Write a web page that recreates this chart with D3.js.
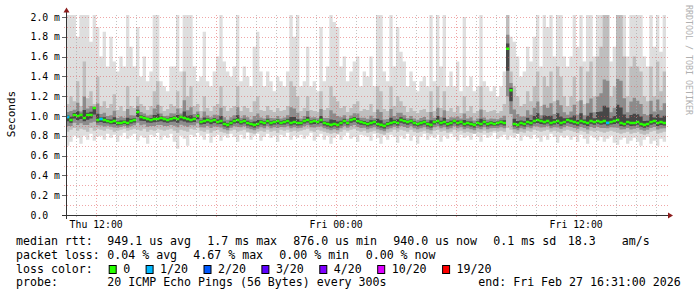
<!DOCTYPE html>
<html><head><meta charset="utf-8">
<script src="https://cdn.jsdelivr.net/npm/d3@7/dist/d3.min.js"></script>
<style>body{margin:0;background:#fff}svg{display:block}</style>
</head><body><svg id="c" width="697" height="297"></svg>
<script>
// ---------- data ----------
const startTime = "2026-02-26T10:31:00Z";
const endTime = "2026-02-27T16:31:00Z";
const stepMinutes = 10;

// median rtt (ms) per 10-minute slot
const median = [
0.99,0.96,1.01,1.00,1.01,0.98,1.01,1.01,1.08,0.96,
0.97,0.96,0.95,0.94,0.95,0.93,0.93,0.94,0.93,0.95,
0.96,1.04,0.99,0.98,0.97,0.96,0.97,0.97,0.98,0.97,
0.96,0.97,0.98,0.97,0.99,0.98,0.97,0.96,0.97,1.00,
0.94,0.95,0.96,0.95,0.96,0.94,0.95,0.92,0.91,0.93,
0.95,0.96,0.94,0.95,0.93,0.92,0.91,0.92,0.94,0.93,
0.95,0.93,0.94,0.95,0.93,0.94,0.95,0.93,0.94,0.93,
0.93,0.95,0.96,0.94,0.95,0.94,0.96,0.93,0.92,0.91,
0.92,0.91,0.93,0.95,0.93,0.96,0.97,0.95,0.94,0.93,
0.92,0.93,0.94,0.92,0.91,0.90,0.92,0.93,0.94,0.93,
0.96,0.95,0.94,0.95,0.93,0.92,0.93,0.94,0.92,0.91,
0.94,0.95,0.93,0.94,0.92,0.93,0.95,0.93,0.94,0.92,
0.93,0.92,0.91,0.93,0.92,0.94,0.92,0.93,0.92,0.93,
0.94,0.93,1.68,1.26,0.92,0.91,0.93,0.92,0.94,0.93,
0.95,0.96,0.95,0.94,0.95,0.93,0.94,0.95,0.93,0.94,
0.96,0.95,0.94,0.93,0.95,0.94,0.93,0.95,0.94,0.95,
0.94,0.95,0.93,0.94,0.95,0.96,0.93,0.92,0.94,0.93,
0.93,0.94,0.92,0.91,0.92,0.94,0.95,0.93,0.94,0.93];

// slowest ping (ms), values above 2.0 are off the chart
const maxRtt = [
2.05,2.05,2.05,1.80,2.05,2.05,2.05,1.75,2.05,1.90,
1.60,1.85,1.50,1.80,1.55,1.45,1.60,1.50,2.05,1.70,
1.50,1.90,1.40,1.60,1.35,1.45,2.05,2.05,1.35,1.30,
1.25,1.50,1.50,2.05,1.45,2.05,2.05,2.05,1.50,1.35,
1.40,1.85,1.35,1.30,1.45,1.60,2.05,1.55,1.45,1.40,
1.50,2.05,1.35,1.50,1.40,1.30,1.70,1.85,1.45,1.30,
1.45,1.35,1.25,1.40,1.35,1.30,1.45,2.05,1.80,2.05,
1.30,1.35,1.70,1.30,1.35,1.25,1.90,1.35,1.50,2.05,
1.95,1.90,1.50,1.60,1.35,1.45,1.55,1.60,1.30,1.45,
1.40,1.60,1.30,2.05,2.05,1.45,1.35,2.05,1.50,1.90,
1.65,1.55,1.30,1.45,1.35,1.25,1.35,1.40,1.30,2.05,
1.35,2.05,1.50,2.05,1.30,1.45,1.30,1.55,1.25,2.00,
1.30,1.40,1.25,1.30,2.05,1.35,1.30,1.25,1.30,1.20,
1.30,1.45,2.05,1.80,1.75,1.60,1.40,1.45,1.70,1.55,
1.80,2.05,1.50,2.05,1.90,2.05,1.60,2.05,2.05,1.60,
1.50,1.60,2.05,1.70,2.05,1.55,2.05,2.05,1.60,2.05,
2.05,2.05,2.05,1.55,1.70,2.05,2.05,2.05,1.60,2.05,
2.05,2.05,2.05,1.60,1.50,2.05,1.70,2.05,1.65,2.05];

// upper edge of the dense part of the smoke (ms)
const upperRtt = [
1.12,1.20,1.15,1.35,1.10,1.55,1.18,1.25,1.12,1.40,
1.10,1.15,1.08,1.12,1.22,1.06,1.10,1.05,1.30,1.10,
1.08,1.20,1.12,1.10,1.06,1.10,1.25,1.35,1.10,1.05,
1.07,1.12,1.10,1.25,1.08,1.45,1.20,1.30,1.10,1.12,
1.05,1.20,1.08,1.05,1.10,1.12,1.30,1.10,1.05,1.08,
1.10,1.30,1.05,1.10,1.08,1.04,1.15,1.20,1.06,1.05,
1.10,1.06,1.04,1.08,1.05,1.06,1.10,1.35,1.30,1.20,
1.05,1.08,1.20,1.06,1.05,1.04,1.25,1.06,1.08,1.30,
1.20,1.15,1.08,1.10,1.04,1.08,1.12,1.15,1.05,1.07,
1.06,1.12,1.04,1.30,1.25,1.07,1.05,1.30,1.10,1.20,
1.15,1.10,1.04,1.08,1.05,1.03,1.06,1.07,1.04,1.25,
1.05,1.30,1.08,1.25,1.05,1.08,1.04,1.10,1.03,1.20,
1.05,1.10,1.03,1.05,1.30,1.06,1.04,1.05,1.06,1.03,
1.05,1.12,2.05,1.45,1.30,1.20,1.10,1.12,1.25,1.15,
1.30,1.45,1.10,1.40,1.30,1.45,1.15,1.50,1.40,1.20,
1.10,1.20,1.40,1.15,1.50,1.12,1.45,1.55,1.20,1.60,
1.70,2.05,2.05,1.20,1.30,2.05,2.05,1.60,1.20,1.50,
1.60,1.50,1.45,1.20,1.15,1.50,1.20,1.55,1.25,1.45];

// lower edge of the dense part of the smoke (ms)
const lowerRtt = [
0.84,0.86,0.88,0.85,0.87,0.86,0.84,0.88,0.85,0.87,
0.86,0.85,0.87,0.86,0.84,0.85,0.86,0.87,0.85,0.86,
0.87,0.86,0.85,0.87,0.84,0.86,0.85,0.87,0.86,0.85,
0.86,0.87,0.85,0.83,0.86,0.85,0.84,0.87,0.86,0.88,
0.85,0.84,0.86,0.83,0.85,0.86,0.84,0.83,0.82,0.85,
0.86,0.84,0.85,0.86,0.84,0.83,0.82,0.84,0.85,0.84,
0.86,0.84,0.85,0.83,0.86,0.85,0.86,0.84,0.85,0.84,
0.85,0.86,0.87,0.85,0.84,0.86,0.85,0.84,0.83,0.82,
0.83,0.82,0.84,0.86,0.85,0.86,0.87,0.85,0.84,0.85,
0.83,0.84,0.85,0.83,0.82,0.81,0.83,0.84,0.86,0.84,
0.86,0.85,0.84,0.86,0.84,0.83,0.84,0.85,0.83,0.82,
0.85,0.86,0.84,0.85,0.83,0.84,0.86,0.84,0.85,0.83,
0.84,0.83,0.82,0.84,0.83,0.85,0.83,0.84,0.85,0.84,
0.85,0.84,0.88,0.86,0.83,0.82,0.84,0.83,0.85,0.84,
0.86,0.85,0.84,0.85,0.86,0.84,0.85,0.84,0.83,0.85,
0.86,0.85,0.84,0.83,0.85,0.84,0.82,0.85,0.84,0.85,
0.84,0.83,0.84,0.85,0.84,0.83,0.82,0.83,0.84,0.82,
0.83,0.84,0.82,0.81,0.82,0.84,0.85,0.82,0.83,0.84];

// fastest ping (ms)
const minRtt = [
0.70,0.74,0.80,0.78,0.72,0.80,0.76,0.82,0.75,0.79,
0.80,0.76,0.82,0.78,0.81,0.74,0.80,0.83,0.77,0.80,
0.82,0.75,0.80,0.78,0.72,0.81,0.79,0.83,0.76,0.80,
0.78,0.82,0.74,0.67,0.80,0.77,0.70,0.81,0.79,0.83,
0.80,0.76,0.82,0.73,0.79,0.81,0.75,0.80,0.78,0.82,
0.79,0.74,0.81,0.77,0.83,0.76,0.80,0.82,0.75,0.79,
0.82,0.78,0.80,0.74,0.81,0.79,0.83,0.76,0.80,0.78,
0.81,0.77,0.80,0.83,0.75,0.79,0.82,0.76,0.80,0.72,
0.78,0.81,0.76,0.80,0.83,0.77,0.79,0.74,0.81,0.80,
0.79,0.75,0.82,0.78,0.72,0.80,0.76,0.81,0.79,0.73,
0.80,0.77,0.82,0.75,0.80,0.72,0.79,0.82,0.76,0.80,
0.78,0.81,0.74,0.80,0.77,0.82,0.79,0.75,0.81,0.78,
0.80,0.76,0.82,0.79,0.74,0.81,0.78,0.80,0.83,0.77,
0.79,0.81,0.76,0.80,0.78,0.82,0.75,0.80,0.79,0.77,
0.81,0.78,0.74,0.80,0.76,0.82,0.79,0.73,0.80,0.78,
0.80,0.76,0.79,0.74,0.81,0.77,0.72,0.80,0.78,0.75,
0.79,0.74,0.77,0.80,0.73,0.71,0.76,0.78,0.72,0.75,
0.78,0.74,0.70,0.76,0.79,0.72,0.75,0.70,0.77,0.74];

// slots with packet loss and the number of lost pings (of 20)
const lossSlots = [0, 10, 162];
const lossCounts = [1, 1, 1];

const yTickValues = [0,0.2,0.4,0.6,0.8,1.0,1.2,1.4,1.6,1.8,2.0];
const yTickLabels = ["0.0","0.2 m","0.4 m","0.6 m","0.8 m","1.0 m","1.2 m","1.4 m","1.6 m","1.8 m","2.0 m"];
const yGridValues = [0.1,0.2,0.3,0.4,0.5,0.6,0.7,0.8,0.9,1.0,1.1,1.2,1.3,1.4,1.5,1.6,1.7,1.8,1.9,2.0];
const xTickTimes = ["2026-02-26T12:00:00Z","2026-02-27T00:00:00Z","2026-02-27T12:00:00Z"];
const xTickLabels = ["Thu 12:00","Fri 00:00","Fri 12:00"];

const medianStats = ["949.1 us avg","1.7 ms max","876.0 us min","940.0 us now","0.1 ms sd","18.3","am/s"];
const lossStats = ["0.04 % avg","4.67 % max","0.00 % min","0.00 % now"];
const lossLabels = ["0","1/20","2/20","3/20","4/20","10/20","19/20"];
const lossColors = ["#26ff00","#00b8ff","#0059ff","#5e00ff","#7e00ff","#dd00ff","#ff0000"];
const lossThresholds = [0,1,2,3,4,10,19];
const probeText = "20 ICMP Echo Pings (56 Bytes) every 300s";
const endText = "end: Fri Feb 27 16:31:00 2026";

// ---------- drawing ----------
const svg = d3.select("#c");
const mono = "'DejaVu Sans Mono', monospace";
const t0 = new Date(startTime), t1 = new Date(endTime);
const x = d3.scaleUtc().domain([t0, t1]).range([66, 666]);
const y = d3.scaleLinear().domain([0, 2]).range([215, 17]);

const N = median.length;
const rows = d3.range(N + 1).map(i => {
  const k = Math.min(i, N - 1);
  return {t: d3.utcMinute.offset(t0, i * stepMinutes), med: median[k], hi: maxRtt[k],
          up: upperRtt[k], lo2: lowerRtt[k], lo: minRtt[k]};
});

svg.append("defs").append("clipPath").attr("id", "pc")
  .append("rect").attr("x", 66).attr("y", 15).attr("width", 600).attr("height", 200);
const plot = svg.append("g").attr("clip-path", "url(#pc)");

function band(f0, f1, color) {
  const a = d3.area().curve(d3.curveStepAfter)
    .x(d => x(d.t)).y0(d => y(f0(d))).y1(d => y(f1(d)));
  plot.append("path").datum(rows).attr("d", a).attr("fill", color);
}
band(d => d.lo, d => d.hi, "#dedede");
band(d => d.lo2, d => d.up, "#bebebe");
band(d => d.med - (d.med - d.lo2) * 0.6, d => d.med + (d.up - d.med) * 0.38, "#8c8c8c");
band(d => d.med - (d.med - d.lo2) * 0.28, d => d.med + (d.up - d.med) * 0.14, "#474747");
band(d => d.med - 0.013, d => d.med + 0.013, lossColors[0]);

lossSlots.forEach((s, j) => {
  const ci = d3.bisectRight(lossThresholds, lossCounts[j]) - 1;
  plot.append("rect")
    .attr("x", x(rows[s].t)).attr("width", x(rows[s + 1].t) - x(rows[s].t))
    .attr("y", y(median[s] + 0.013)).attr("height", y(median[s] - 0.013) - y(median[s] + 0.013))
    .attr("fill", lossColors[ci]);
});

// grid (drawn over the data, dotted)
const grid = svg.append("g");
d3.utcHour.range(d3.utcHour.ceil(t0), t1).forEach(h => {
  const major = h.getUTCHours() % 6 === 0;
  const xx = Math.round(x(h)) + 0.5;
  grid.append("line").attr("x1", xx).attr("x2", xx).attr("y1", 15).attr("y2", 217)
    .attr("stroke", major ? "rgba(224,80,80,0.5)" : "rgba(170,170,170,0.7)")
    .attr("stroke-dasharray", "1,2");
});
yGridValues.forEach(v => {
  const yy = Math.round(y(v)) + 0.5;
  grid.append("line").attr("x1", 64).attr("x2", 668).attr("y1", yy).attr("y2", yy)
    .attr("stroke", "rgba(224,80,80,0.5)").attr("stroke-dasharray", "1,2");
});

// axes
const axisColor = "#333";
svg.append("line").attr("x1", 62).attr("x2", 669).attr("y1", 215.5).attr("y2", 215.5).attr("stroke", axisColor);
svg.append("line").attr("x1", 66.5).attr("x2", 66.5).attr("y1", 219).attr("y2", 12).attr("stroke", axisColor);
svg.append("path").attr("d", "M668,212.5L673,215.5L668,218.5Z").attr("fill", "#8c1c1c");
svg.append("path").attr("d", "M63.5,12.5L66.5,7.5L69.5,12.5Z").attr("fill", "#8c1c1c");

yTickValues.forEach((v, i) => {
  const yy = Math.round(y(v)) + 0.5;
  if (v > 0) svg.append("line").attr("x1", 62).attr("x2", 66).attr("y1", yy).attr("y2", yy).attr("stroke", "#666");
  svg.append("text").attr("x", 30.5).attr("y", y(v) + 3.6)
    .attr("font-family", mono).attr("font-size", "9.8px").attr("fill", "#000").text(yTickLabels[i]);
});
xTickTimes.forEach((t, i) => {
  svg.append("text").attr("x", x(new Date(t)) + 0.5).attr("y", 228.3).attr("text-anchor", "middle")
    .attr("font-family", mono).attr("font-size", "9.8px").attr("fill", "#000").text(xTickLabels[i]);
});

svg.append("text").attr("transform", "translate(15,114) rotate(-90)").attr("text-anchor", "middle")
  .attr("font-family", mono).attr("font-size", "11px").attr("fill", "#000").text("Seconds");
svg.append("text").attr("transform", "translate(685.5,5) rotate(90)")
  .attr("font-family", mono).attr("font-size", "8.3px").attr("fill", "#b0b0b0").text("RRDTOOL / TOBI OETIKER");

// legend
const lf = "11.6px";
const base = [245.3, 258.9, 272.6, 286.3];
function txt(xx, yy, s) {
  svg.append("text").attr("x", xx).attr("y", yy).attr("font-family", mono).attr("font-size", lf)
    .attr("fill", "#000").text(s);
}
txt(16, base[0], "median rtt:");
[107.3, 207.3, 293.3, 393.3, 493.3, 567.7, 621.7].forEach((xx, i) => txt(xx, base[0], medianStats[i]));
txt(16, base[1], "packet loss:");
[107.3, 193.3, 279.3, 365.7].forEach((xx, i) => txt(xx, base[1], lossStats[i]));
txt(16, base[2], "loss color:");
let bx = 108.7;
lossLabels.forEach((l, i) => {
  svg.append("rect").attr("x", bx + 0.5).attr("y", 265.5).attr("width", 7).attr("height", 8)
    .attr("fill", lossColors[i]).attr("stroke", "#000").attr("stroke-width", 1);
  txt(bx + 14.5, base[2], l);
  bx += 14.5 + l.length * 7.0 + 15.4;
});
txt(16, base[3], "probe:");
txt(107.3, base[3], probeText);
txt(478.3, base[3], endText);
</script></body></html>
